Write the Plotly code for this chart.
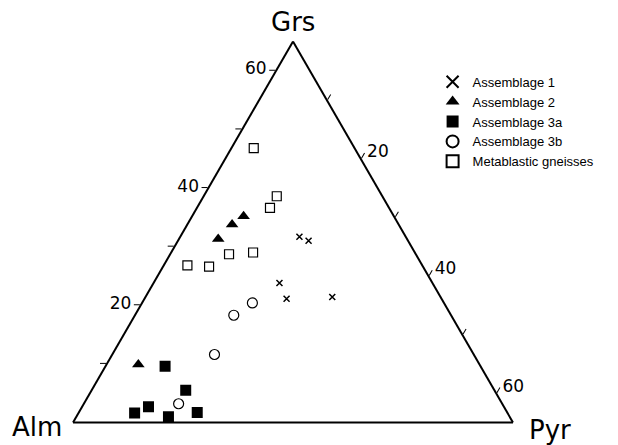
import plotly.graph_objects as go

# Data: (Grs, Alm, Pyr) mol %
a1_grs = [31.7, 31.0, 23.8, 21.1, 21.4]
a1_alm = [50.7, 49.7, 57.6, 57.9, 51.0]
a1_pyr = [17.6, 19.3, 18.6, 21.0, 27.6]

a2_grs = [35.2, 33.8, 31.3, 9.9]
a2_alm = [57.2, 59.6, 62.9, 85.4]
a2_pyr = [7.6, 6.6, 5.8, 4.7]

a3a_grs = [9.6, 5.5, 2.7, 1.6, 1.0, 1.7]
a3a_alm = [81.6, 80.6, 87.5, 90.1, 85.4, 80.8]
a3a_pyr = [8.8, 13.9, 9.8, 8.3, 13.6, 17.5]

a3b_grs = [20.4, 18.3, 11.6, 3.2]
a3b_alm = [63.3, 67.1, 73.3, 82.8]
a3b_pyr = [16.3, 14.6, 15.1, 14.0]

mg_grs = [46.8, 38.6, 36.6, 28.7, 29.0, 26.8, 26.6]
mg_alm = [49.9, 50.6, 52.6, 62.6, 58.9, 69.7, 66.6]
mg_pyr = [3.3, 10.8, 10.8, 8.7, 12.1, 3.5, 6.8]

tick_vals = [10, 20, 30, 40, 50, 60]
tick_text = ["", "20", "", "40", "", "60"]

corner_labels = ["Grs", "Alm", "Pyr"]

fig = go.Figure()

def add(name, g, a, p, symbol, size, lw=1.2):
    fig.add_trace(go.Scatterternary(
        a=g, b=a, c=p, mode="markers", name=name,
        marker=dict(symbol=symbol, size=size, color="black",
                    line=dict(color="black", width=lw)),
    ))

add("Assemblage 1", a1_grs, a1_alm, a1_pyr, "x-thin-open", 6, 1.5)
add("Assemblage 2", a2_grs, a2_alm, a2_pyr, "triangle-up", 11, 0)
add("Assemblage 3a", a3a_grs, a3a_alm, a3a_pyr, "square", 11, 0)
add("Assemblage 3b", a3b_grs, a3b_alm, a3b_pyr, "circle-open", 10, 1.2)
add("Metablastic gneisses", mg_grs, mg_alm, mg_pyr, "square-open", 9, 1.2)

axis_common = dict(showgrid=False, linecolor="black", linewidth=2,
                   tickcolor="black", tickwidth=1,
                   tickfont=dict(family="DejaVu Sans", size=17, color="black"))

title_font = dict(family="DejaVu Sans", size=26, color="black")

fig.update_layout(
    width=618, height=445,
    margin=dict(l=0, r=0, t=0, b=0),
    paper_bgcolor="white",
    showlegend=True,
    legend=dict(x=0.70, y=0.85, xanchor="left", yanchor="top",
                font=dict(family="Liberation Sans", size=13, color="black"),
                bgcolor="rgba(0,0,0,0)", tracegroupgap=0, itemsizing="constant"),
    ternary=dict(
        sum=100,
        domain=dict(x=[73/618, 513/618], y=[22.5/445, 403.5/445]),
        bgcolor="white",
        aaxis=dict(min=0, title=dict(text=""),
                   tickmode="array", tickvals=tick_vals, ticktext=tick_text,
                   ticks="outside", ticklen=6, **axis_common),
        baxis=dict(min=35, title=dict(text=""),
                   showticklabels=False, ticks="", **axis_common),
        caxis=dict(min=0, title=dict(text=""),
                   tickmode="array", tickvals=tick_vals, ticktext=tick_text,
                   ticks="outside", ticklen=6, **axis_common),
    ),
    annotations=[
        dict(text=corner_labels[0], x=293/618, y=1 - 22/445, xref="paper", yref="paper",
             xanchor="center", yanchor="middle", showarrow=False, font=title_font),
        dict(text=corner_labels[1], x=37/618, y=1 - 427/445, xref="paper", yref="paper",
             xanchor="center", yanchor="middle", showarrow=False, font=title_font),
        dict(text=corner_labels[2], x=550/618, y=1 - 430/445, xref="paper", yref="paper",
             xanchor="center", yanchor="middle", showarrow=False, font=title_font),
    ],
)

fig.write_html("out.html")
